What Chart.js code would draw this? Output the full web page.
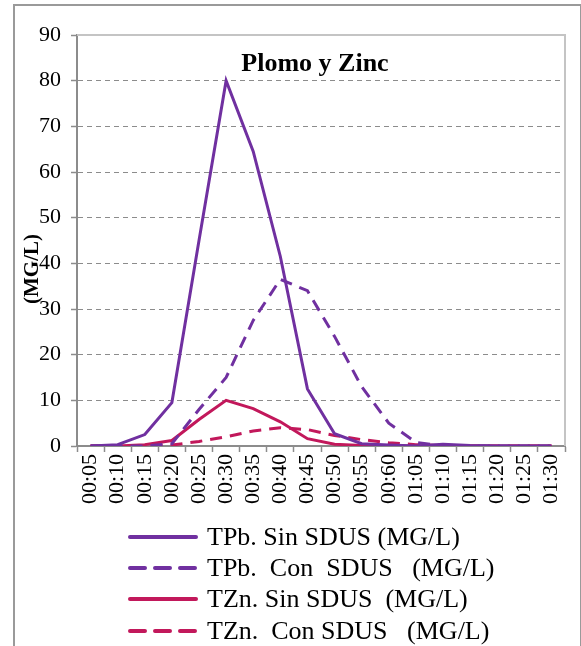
<!DOCTYPE html>
<html>
<head>
<meta charset="utf-8">
<script src="https://cdn.jsdelivr.net/npm/chart.js@4"></script>
<style>
  html, body { margin: 0; padding: 0; background: #fff; overflow: hidden; }
  #wrap { position: relative; width: 581px; height: 646px; }
  #frame { position: absolute; left: 13px; top: 4px; width: 565px; height: 700px; border: 2px solid #9a9a9a; }
  #myChart { position: absolute; left: 0; top: 0; }
  #legend { position: absolute; left: 128px; top: 521px; font-family: "Liberation Serif", serif; font-size: 26px; color: #000; }
  .row { height: 31.3px; display: flex; align-items: center; white-space: pre; }
  .row svg { margin-right: 9px; }
</style>
</head>
<body>
<div id="wrap">
  <div id="frame"></div>
  <canvas id="myChart" width="581" height="646"></canvas>
  <div id="legend"></div>
</div>
<script>
const times = ["00:05", "00:10", "00:15", "00:20", "00:25", "00:30", "00:35", "00:40", "00:45",
  "00:50", "00:55", "00:60", "01:05", "01:10", "01:15", "01:20", "01:25", "01:30"];
const tpbSin = [0, 0.3, 2.5, 9.5, 45, 80, 64.5, 41.5, 12.5, 2.7, 0.5, 0.2, 0, 0.4, 0.1, 0, 0, 0];
const tpbCon = [0, 0, 0, 0.5, 8, 15, 27.5, 36.5, 34, 24, 13, 5, 0.8, 0, 0, 0, 0, 0];
const tznSin = [0, 0, 0.3, 1.2, 5.8, 10, 8.2, 5.3, 1.6, 0.4, 0.1, 0, 0, 0, 0, 0, 0, 0];
const tznCon = [0, 0, 0.1, 0.2, 1, 2, 3.3, 4, 3.6, 2.3, 1.4, 0.7, 0.3, 0.1, 0, 0, 0, 0];
const seriesNames = [
  "TPb. Sin SDUS (MG/L)",
  "TPb.  Con  SDUS   (MG/L)",
  "TZn. Sin SDUS  (MG/L)",
  "TZn.  Con SDUS   (MG/L)",
];

const purple = "#7030a0";
const magenta = "#c2185b";
const dash = [12, 8];

const ctx = document.getElementById("myChart").getContext("2d");

const makeSet = (label, data, color, dashed) => ({
  label: label,
  data: data,
  borderColor: color,
  backgroundColor: color,
  borderWidth: 3,
  borderDash: dashed ? dash : [],
  pointRadius: 0,
  tension: 0,
  fill: false,
});

// frame of the plot area plus the texts drawn inside it
const extras = {
  id: "extras",
  beforeDatasetsDraw(chart) {
    const a = chart.chartArea;
    const c = chart.ctx;
    c.save();
    c.strokeStyle = "#c4c4c4";
    c.lineWidth = 2;
    c.beginPath();
    c.moveTo(a.left, a.top);
    c.lineTo(a.right, a.top);
    c.lineTo(a.right, a.bottom);
    c.stroke();
    c.restore();
  },
  afterDraw(chart) {
    const c = chart.ctx;
    c.save();
    c.fillStyle = "#000";
    c.textAlign = "center";
    c.textBaseline = "middle";
    c.font = "bold 26px 'Liberation Serif'";
    c.fillText("Plomo y Zinc", 315, 64);
    c.translate(33, 269);
    c.rotate(-Math.PI / 2);
    c.font = "bold 21px 'Liberation Serif'";
    c.fillText("(MG/L)", 0, 0);
    c.restore();
  },
};

const myChart = new Chart(ctx, {
  type: "line",
  data: {
    labels: times,
    datasets: [
      makeSet(seriesNames[0], tpbSin, purple, false),
      makeSet(seriesNames[1], tpbCon, purple, true),
      makeSet(seriesNames[2], tznSin, magenta, false),
      makeSet(seriesNames[3], tznCon, magenta, true),
    ],
  },
  options: {
    responsive: false,
    animation: false,
    layout: { padding: { left: 14, top: 35, right: 16, bottom: 0 } },
    plugins: { legend: { display: false }, tooltip: { enabled: false }, title: { display: false } },
    scales: {
      x: {
        offset: true,
        afterFit: (s) => { s.height = 200; },
        grid: { drawOnChartArea: false, offset: true, tickLength: 6, tickColor: "#8c8c8c", tickWidth: 1.5 },
        border: { color: "#8c8c8c", width: 2 },
        ticks: {
          minRotation: 90, maxRotation: 90, autoSkip: false, padding: 2,
          color: "#000", font: { family: "Liberation Serif", size: 22 },
        },
      },
      y: {
        min: 0, max: 90,
        afterFit: (s) => { s.width = 63; },
        grid: { color: "#8c8c8c", lineWidth: 1, tickLength: 6, tickColor: "#8c8c8c", tickWidth: 1.5, tickBorderDash: [] },
        border: { color: "#8c8c8c", width: 2, dash: [5, 4] },
        ticks: {
          stepSize: 10, padding: 10, color: "#000",
          font: { family: "Liberation Serif", size: 22 },
        },
      },
    },
  },
  plugins: [extras],
});

// legend, one item per line like the original
const legendDiv = document.getElementById("legend");
myChart.data.datasets.forEach((ds) => {
  const row = document.createElement("div");
  row.className = "row";
  const d = ds.borderDash.length ? ' stroke-dasharray="15 10"' : "";
  row.innerHTML = '<svg width="70" height="10"><line x1="2" y1="5" x2="68" y2="5" stroke="' + ds.borderColor +
    '" stroke-width="4" stroke-linecap="round"' + d + '/></svg><span>' + ds.label + "</span>";
  legendDiv.appendChild(row);
});
</script>
</body>
</html>
